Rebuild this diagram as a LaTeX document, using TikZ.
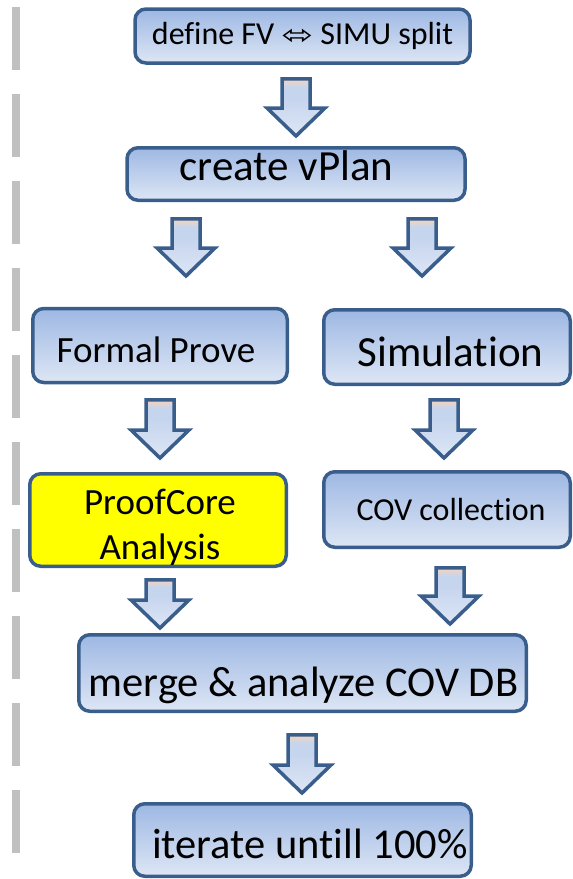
\documentclass[tikz,border=0pt]{standalone}
\usepackage{fontspec}
\setmainfont{Carlito}[Ligatures=NoCommon]
\newfontfamily\symfont{DejaVu Sans}
\definecolor{boxtop}{RGB}{158,184,227}
\definecolor{boxbot}{RGB}{221,230,245}
\definecolor{edgeblue}{RGB}{58,94,140}
\definecolor{peach}{RGB}{242,212,192}
\definecolor{arrowmid}{RGB}{198,213,238}
\definecolor{dashgray}{RGB}{192,192,192}
\definecolor{hiyellow}{RGB}{255,255,0}
\pgfdeclareverticalshading{arrowshade}{100bp}{color(0bp)=(boxbot); color(25bp)=(boxbot); color(58bp)=(arrowmid); color(68bp)=(arrowmid); color(74bp)=(peach); color(100bp)=(peach)}
\tikzset{
  flowbox/.style={draw=edgeblue, line width=3.5pt, rounded corners=11pt,
    top color=boxtop, bottom color=boxbot, inner sep=0pt, text=black},
  yellowbox/.style={flowbox, fill=hiyellow, top color=hiyellow, bottom color=hiyellow},
  blockarr/.style={draw=edgeblue, line width=3.5pt, shading=arrowshade, line join=miter},
  dashline/.style={draw=dashgray, line width=7.5pt, dash pattern=on 63pt off 24pt},
}
% text placed with its baseline #2 pt below the node centre, shifted #1 pt sideways
\newcommand\tb[3]{\raisebox{-#2pt}[0pt][0pt]{\makebox[0pt]{\hspace*{#1pt}\hspace*{#1pt}#3}}}
\newcommand\downblock[3]{%
  \path[blockarr] (#1-14,#2+1.75) -- (#1+14,#2+1.75) -- (#1+14,#3-31) -- (#1+29,#3-31)
    -- (#1,#3-3) -- (#1-29,#3-31) -- (#1-14,#3-31) -- cycle;}
\begin{document}
\begin{tikzpicture}[x=1pt,y=-1pt]
\useasboundingbox (0,0) rectangle (573,879);
\draw[dashline] (16,7) -- (16,862);

\node[flowbox, minimum width=335pt, minimum height=54pt, font=\fontsize{32}{39}\selectfont]
  (fv) at (302.5,36) {\tb{0}{8}{define FV {\symfont\fontsize{26}{30}\selectfont\scalebox{1.45}[1.05]{⬄}} SIMU split}};
\node[flowbox, minimum width=338pt, minimum height=52.5pt, font=\fontsize{43}{52}\selectfont]
  (vp) at (296,174) {\tb{-9.5}{6.5}{create vPlan}};
\node[flowbox, minimum width=254.5pt, minimum height=74pt, font=\fontsize{37}{45}\selectfont]
  (fp) at (160,345.5) {\tb{-4}{17}{Formal Prove}};
\node[flowbox, minimum width=246.5pt, minimum height=74.5pt, font=\fontsize{43}{52}\selectfont]
  (sim) at (447,347) {\tb{3.5}{19}{Simulation}};
\node[yellowbox, minimum width=256.5pt, minimum height=92.5pt, font=\fontsize{37}{45}\selectfont]
  (pc) at (158,520) {\tb{2}{39}{\begin{tabular}[b]{@{}c@{}}ProofCore\\Analysis\end{tabular}}};
\node[flowbox, minimum width=246.5pt, minimum height=75.5pt, font=\fontsize{32}{38}\selectfont]
  (cov) at (447,509.5) {\tb{4}{10.5}{COV collection}};
\node[flowbox, minimum width=447.5pt, minimum height=76.5pt, font=\fontsize{42.5}{51}\selectfont]
  (mg) at (302.5,673) {\tb{1}{23}{merge \& analyze COV DB}};
\node[flowbox, minimum width=337.5pt, minimum height=72.5pt, font=\fontsize{42.5}{51}\selectfont]
  (it) at (302.5,840) {\tb{7.5}{18}{iterate untill 100\%}};

\downblock{296}{77}{139}
\downblock{186}{217}{279}
\downblock{422}{217}{279}
\downblock{160}{398}{461}
\downblock{444}{398}{461}
\downblock{160}{578}{631}
\downblock{450}{566}{627}
\downblock{302}{733}{796}
\end{tikzpicture}
\end{document}
